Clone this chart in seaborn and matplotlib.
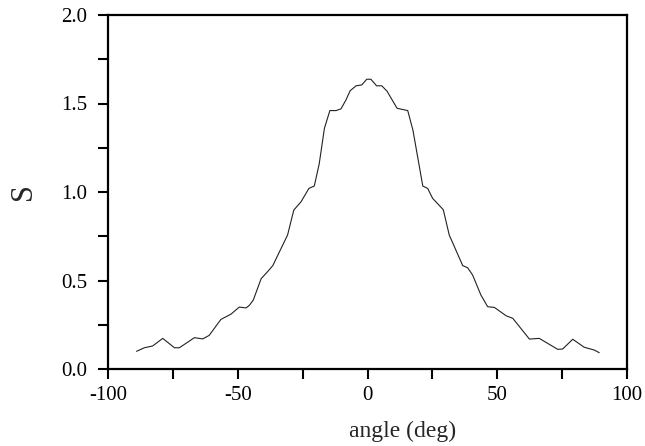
import matplotlib
matplotlib.use("Agg")
import matplotlib.pyplot as plt
import seaborn as sns
import pandas as pd
from matplotlib.ticker import MultipleLocator

angle = [-89, -86, -82.8, -78.9, -74.4, -72.5, -66.7, -63.5, -61, -56.5, -53.9, -52.6,
         -49.4, -46.8, -45.5, -44, -41, -38.5, -36.5, -34, -30.8, -28.4, -25.6, -22.6,
         -20.5, -18.6, -16.6, -14.5, -12.1, -10.2, -8.3, -6.7, -4.4, -2.2, -0.3, 1.3,
         3.5, 5.5, 7.5, 11.4, 15.5, 17.5, 21.3, 23.2, 25.1, 29.2, 31.5, 36.7, 38.6,
         40.5, 43.7, 46.3, 48.9, 53.4, 56, 62.4, 66.2, 73.3, 75.2, 79.1, 83.5, 87.4, 89.3]
S = [0.10, 0.12, 0.13, 0.173, 0.12, 0.12, 0.177, 0.17, 0.19, 0.28, 0.30, 0.31,
     0.35, 0.345, 0.36, 0.39, 0.51, 0.55, 0.584, 0.66, 0.757, 0.898, 0.945, 1.02,
     1.034, 1.16, 1.36, 1.46, 1.46, 1.47, 1.52, 1.572, 1.60, 1.605, 1.637, 1.637,
     1.60, 1.60, 1.57, 1.473, 1.46, 1.35, 1.034, 1.02, 0.964, 0.90, 0.757, 0.584, 0.572,
     0.531, 0.418, 0.352, 0.348, 0.301, 0.286, 0.169, 0.173, 0.111, 0.113, 0.168, 0.123, 0.107, 0.092]

x_ticks = [-100, -50, 0, 50, 100]
y_ticks = [0.0, 0.5, 1.0, 1.5, 2.0]

sns.set_theme(style="ticks")
plt.rcParams['font.family'] = ['Liberation Serif', 'DejaVu Serif']

df = pd.DataFrame({"angle": angle, "S": S})

fig = plt.figure(figsize=(6.45, 4.46), dpi=100)
ax = fig.add_axes([108/645, 1-369/446, (627-108)/645, (369-15)/446])
sns.lineplot(data=df, x="angle", y="S", ax=ax, color="#222222", linewidth=0.8, sort=False)

ax.set_xlim(-100, 100)
ax.set_ylim(0, 2.0)
ax.set_xticks(x_ticks)
ax.set_xticklabels([str(t) for t in x_ticks])
ax.set_yticks(y_ticks)
ax.set_yticklabels([f"{t:.1f}" for t in y_ticks])
ax.xaxis.set_minor_locator(MultipleLocator(25))
ax.yaxis.set_minor_locator(MultipleLocator(0.25))
ax.tick_params(axis="both", which="both", direction="out", length=7, width=1.5,
               colors="black", labelsize=15, top=False, right=False)
ax.tick_params(axis="x", which="major", pad=5)
ax.tick_params(axis="y", which="major", pad=8)
for sp in ax.spines.values():
    sp.set_visible(True)
    sp.set_linewidth(1.6)
    sp.set_color("black")

ax.set_xlabel("angle (deg)", fontsize=17)
ax.xaxis.set_label_coords(0.568, -0.145)
ax.set_ylabel("S", fontsize=22)
ax.yaxis.set_label_coords(-0.135, 0.5)

fig.savefig("out.png", dpi=100)
